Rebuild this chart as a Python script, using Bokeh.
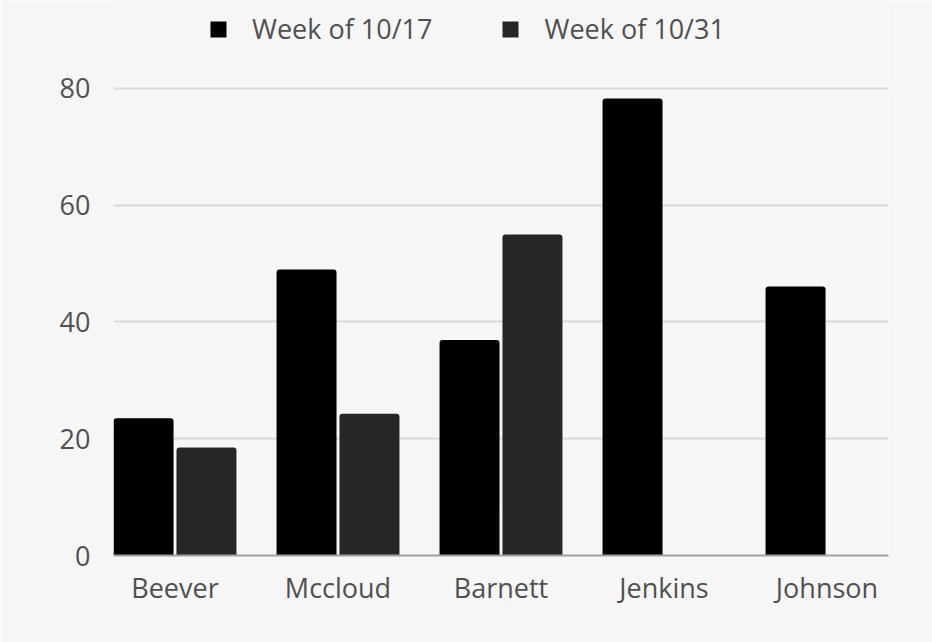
import numpy as np
from bokeh.plotting import figure
from bokeh.models import ColumnDataSource, FactorRange, FixedTicker, Legend, LegendItem, Range1d
from bokeh.transform import dodge
from bokeh.embed import file_html
from bokeh.resources import INLINE

names = ["Beever", "Mccloud", "Barnett", "Jenkins", "Johnson"]
week_1017 = [23.5, 49.0, 36.9, 78.3, 46.1]
week_1031 = [18.5, 24.3, 55.0, np.nan, np.nan]
series_labels = ["Week of 10/17", "Week of 10/31"]
y_ticks = [0, 20, 40, 60, 80]

src = ColumnDataSource(dict(name=names, a=week_1017, b=week_1031))

FONT = "Open Sans"
TXT = "#505050"
BG = "#f6f6f6"

W, H = 932, 642
x_range = FactorRange(factors=names, range_padding=-0.1227, range_padding_units="absolute")
# frame spans the full top; the y range is extended above 80 so the legend fits over the gridlines
p = figure(width=W, height=H, x_range=x_range, y_range=Range1d(0, 95.07),
           output_backend="svg", toolbar_location=None,
           min_border_left=113, min_border_right=44, min_border_top=0, min_border_bottom=87)
p.background_fill_color = BG
p.border_fill_color = BG
p.outline_line_color = None

r1 = p.vbar(x=dodge("name", -0.193, range=p.x_range), top="a", width=0.368, source=src,
            fill_color="#000000", line_color=None, border_radius=(3, 3, 0, 0))
r2 = p.vbar(x=dodge("name", 0.193, range=p.x_range), top="b", width=0.368, source=src,
            fill_color="#262626", line_color=None, border_radius=(3, 3, 0, 0))

p.xgrid.grid_line_color = None
p.ygrid.grid_line_color = "#d9d9d9"
p.ygrid.grid_line_width = 2
p.yaxis.ticker = FixedTicker(ticks=y_ticks)
p.yaxis.axis_line_color = None
p.yaxis.major_tick_line_color = None
p.yaxis.minor_tick_line_color = None
p.yaxis.major_label_standoff = 17
p.xaxis.axis_line_color = "#a0a0a0"
p.xaxis.axis_line_width = 2
p.xaxis.major_tick_line_color = None
p.xaxis.major_label_standoff = 7
for ax in (p.xaxis[0], p.yaxis[0]):
    ax.major_label_text_font = FONT
    ax.major_label_text_font_size = "27px"
    ax.major_label_text_color = TXT

legend = Legend(items=[LegendItem(label=series_labels[0], renderers=[r1]),
                       LegendItem(label=series_labels[1], renderers=[r2])],
                orientation="horizontal", location=(95, 508),
                glyph_width=20, glyph_height=20, label_standoff=24, spacing=68,
                padding=0, margin=0, border_line_color=None, background_fill_alpha=0,
                label_text_font=FONT, label_text_font_size="27px", label_text_color=TXT)
p.add_layout(legend, "center")

open("out.html", "w").write(file_html(p, INLINE))
